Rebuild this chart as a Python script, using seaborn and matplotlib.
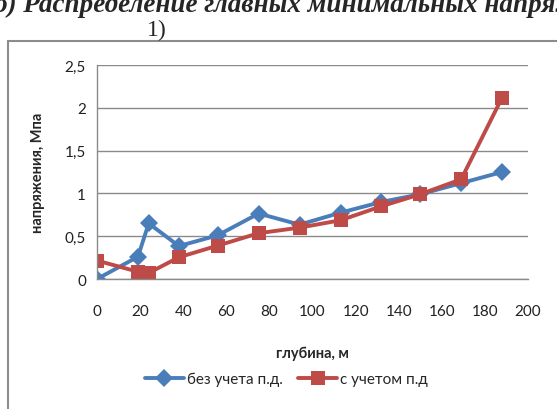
import matplotlib
matplotlib.use('Agg')
import matplotlib.pyplot as plt
from matplotlib.patches import Rectangle
from matplotlib.ticker import FuncFormatter, MultipleLocator
import seaborn as sns
import pandas as pd

# данные
depth = [0, 19, 24, 38, 56, 75, 94, 113, 132, 150, 169, 188]
no_pd = [0.0, 0.26, 0.65, 0.385, 0.51, 0.765, 0.635, 0.775, 0.9, 0.99, 1.12, 1.25]
with_pd = [0.215, 0.085, 0.07, 0.254, 0.39, 0.535, 0.6, 0.686, 0.85, 0.99, 1.165, 2.12]
series_names = ['без учета п.д.', 'с учетом п.д']

df = pd.DataFrame({
    'depth': depth + depth,
    'stress': no_pd + with_pd,
    'series': [series_names[0]] * len(depth) + [series_names[1]] * len(depth),
})

sns.set_theme(style="white")
plt.rcParams['font.family'] = ['Lato', 'DejaVu Sans']

fig = plt.figure(figsize=(5.57, 4.10), dpi=100)
ax = fig.add_axes([97 / 557, 1 - 280 / 410, (528 - 97) / 557, (280 - 66) / 410])

sns.lineplot(data=df, x='depth', y='stress', hue='series', style='series',
             palette={series_names[0]: '#4a7ebb', series_names[1]: '#be4b48'},
             markers={series_names[0]: 'D', series_names[1]: 's'},
             dashes=False, sort=False, linewidth=2.8, markersize=9.5,
             markeredgewidth=0, ax=ax, legend=True)

ax.set_xlim(0, 200)
ax.set_ylim(0, 2.5)
ax.xaxis.set_major_locator(MultipleLocator(20))
ax.yaxis.set_major_locator(MultipleLocator(0.5))
ax.yaxis.set_major_formatter(FuncFormatter(lambda v, p: f'{v:g}'.replace('.', ',')))
ax.grid(axis='y', color='#8a8a8a', linewidth=1.0)
ax.set_axisbelow(True)
for s in ['top', 'right']:
    ax.spines[s].set_visible(False)
for s in ['left', 'bottom']:
    ax.spines[s].set_color('#8a8a8a')
    ax.spines[s].set_linewidth(1.0)
ax.tick_params(axis='both', direction='out', length=4, width=1, color='#8a8a8a',
               labelsize=11, labelcolor='#222222', pad=4)
ax.tick_params(axis='x', pad=14)
ax.set_xlabel('глубина, м', fontsize=10.5, fontweight='bold', labelpad=20)
ax.set_ylabel('напряжения, Мпа', fontsize=10.5, fontweight='bold', labelpad=14)

handles, labels = ax.get_legend_handles_labels()
ax.legend(handles, labels, loc='center', bbox_to_anchor=(286 / 557, 1 - 380 / 410),
          bbox_transform=fig.transFigure, ncol=2, frameon=False, fontsize=11,
          handlelength=2.6, columnspacing=1.0, handletextpad=0.15)

# рамка области диаграммы
fig.patches.append(Rectangle((8 / 557, -0.05), 1.1, 1 - 42 / 410 + 0.05,
                             transform=fig.transFigure, fill=False,
                             edgecolor='#8c8c8c', linewidth=1.5))

# подпись над диаграммой (обрезана сверху)
fig.text(-0.01, 1 - 12 / 410, 'б) Распределение главных минимальных напряжений',
         family='Liberation Serif', fontsize=19.5, fontweight='bold', style='italic',
         va='baseline', ha='left')
fig.text(157 / 557, 1 - 36 / 410, '1)', family='Liberation Serif', fontsize=17,
         va='baseline', ha='center')

plt.savefig('out.png', dpi=100)
plt.close()
